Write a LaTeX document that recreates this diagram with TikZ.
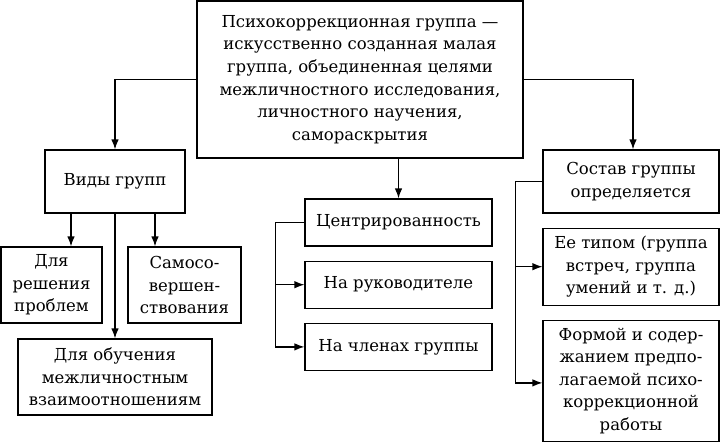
\documentclass[tikz,border=0pt]{standalone}
\usepackage{fontspec}
\setmainfont{DejaVu Serif}
\usetikzlibrary{arrows.meta, positioning}

\begin{document}
\begin{tikzpicture}[
				x=1pt, y=-1pt,
				block/.style={rectangle, draw, align=center, line width=1.2pt, inner sep=1pt,
						font=\fontsize{16.5}{22.6}\selectfont},
				line/.style={draw, -{Latex[length=10pt, width=7.5pt]}, line width=1.2pt}
			]
			\useasboundingbox (0,0) rectangle (721,442);
			\node [block, minimum width=326pt, minimum height=157pt] (block1) at (360,79.5) {Психокоррекционная группа —\\ искусственно созданная малая\\ группа, объединенная целями\\ межличностного исследования,\\ личностного научения,\\ самораскрытия};

			\node [block, minimum width=140pt, minimum height=63pt] (block2) at (115,181.5) {Виды групп};
			\node [block, minimum width=101pt, minimum height=76pt] (block3) at (51.5,285) {Для\\ решения\\ проблем};
			\node [block, minimum width=113pt, minimum height=76pt] (block4) at (184.5,285) {Самосо-\\ вершен-\\ ствования};
			\node [block, minimum width=194pt, minimum height=76pt] (block5) at (115,377) {Для обучения\\ межличностным\\ взаимоотношениям};

			\node [block, minimum width=187pt, minimum height=47pt] (block6) at (398.5,222.5) {Центрированность};
			\node [block, below=14pt of block6, minimum width=187pt, minimum height=47pt] (block7) {На руководителе};
			\node [block, below=14pt of block7, minimum width=187pt, minimum height=47pt] (block8) {На членах группы};

			\node [block, minimum width=176pt, minimum height=63pt] (block9) at (631,181.5) {Состав группы\\ определяется};
			\node [block, below=14pt of block9, minimum width=176pt, minimum height=77pt] (block10) {Ее типом (группа\\ встреч, группа\\ умений и т. д.)};
			\node [block, below=14pt of block10, minimum width=176pt, minimum height=121pt] (block11) {Формой и содер-\\ жанием предпо-\\ лагаемой психо-\\ коррекционной\\ работы};

			\path [line] (block1.west) -| (block2.north);
			\path [line] (block1.east) -| ([xshift=2pt]block9.north);
			\path [line] (block6.north |- block1.south) -- (block6.north);

			\path [line] ([xshift=-44pt]block2.south) -- ([xshift=-44pt]block2.south |- block3.north);
			\path [line] ([xshift=40pt]block2.south) -- ([xshift=40pt]block2.south |- block4.north);
			\path [line] (block2.south) -- (block5.north);

			\path [line] (block6.west) -- ++(-29pt,0) |- (block8.west);
			\path [line] ([xshift=-29pt]block7.west) -- (block7.west);

			\path [line] (block9.west) -- ++(-27pt,0) |- ([yshift=-2pt]block11.west);
			\path [line] ([xshift=-27pt]block10.west) -- (block10.west);
		\end{tikzpicture}
\end{document}
